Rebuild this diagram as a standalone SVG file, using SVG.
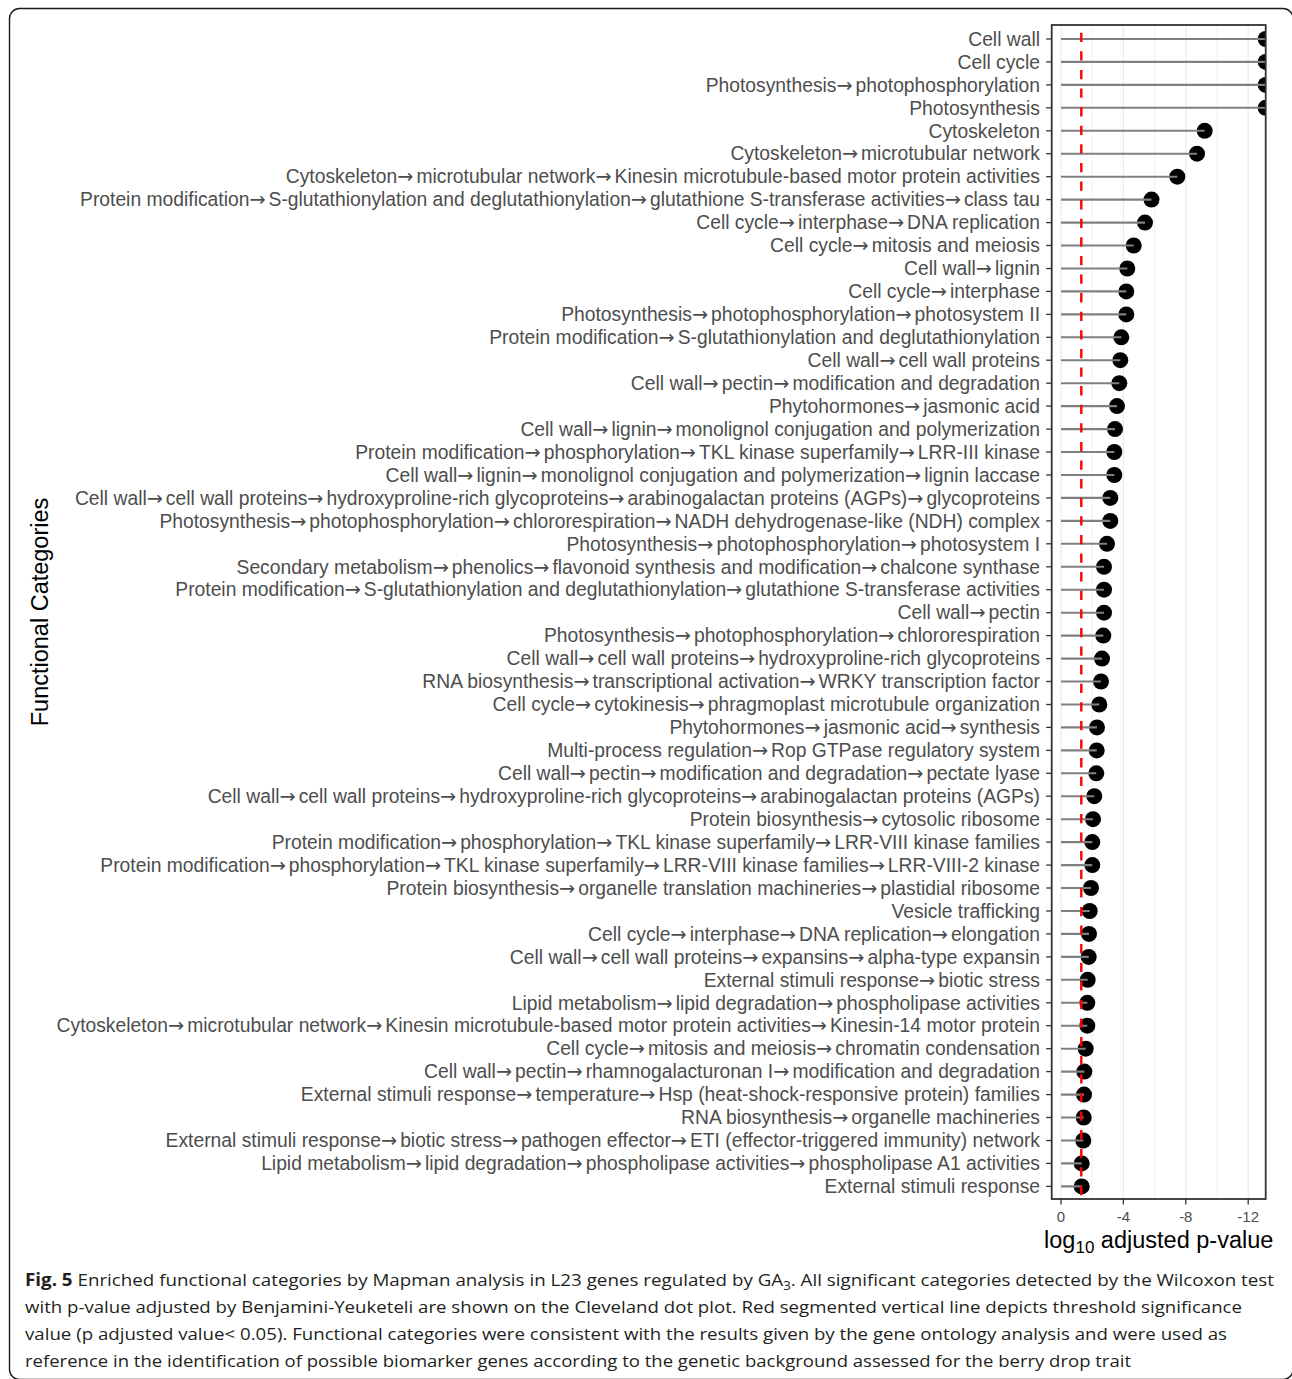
<svg xmlns="http://www.w3.org/2000/svg" width="1292" height="1379" viewBox="0 0 1292 1379">
<style>
.lbl{font-family:"Liberation Sans",Arial,Helvetica,sans-serif;font-size:19.3px;fill:#4d4d4d;text-anchor:end}
.a{font-family:"DejaVu Sans",sans-serif;letter-spacing:3px}
.tick{stroke:#333333;stroke-width:1.3}
.dot{fill:#000000}
.seg line{stroke:#808080;stroke-width:2.1}
.gmaj{stroke:#ebebeb;stroke-width:1.2}
.gmin{stroke:#ebebeb;stroke-width:0.8}
.xlab{font-family:"Liberation Sans",Arial,Helvetica,sans-serif;font-size:15px;fill:#4d4d4d;text-anchor:middle}
.title{font-family:"Liberation Sans",Arial,Helvetica,sans-serif;font-size:23.5px;fill:#000000;text-anchor:middle}
.cap{font-family:"Open Sans","Noto Sans",sans-serif;font-size:17px;fill:#231f20}
</style>
<defs>
<clipPath id="panelClip"><rect x="1051.7" y="25" width="214" height="1174"/></clipPath>
</defs>
<rect x="0" y="0" width="1292" height="1379" fill="#ffffff"/>
<rect id="frame" x="9.5" y="8.5" width="1283.5" height="1371" rx="10" ry="10" fill="none" stroke="#1a1a1a" stroke-width="1.4"/>

<g id="grid">
<line class="gmin" x1="1092.2" y1="25" x2="1092.2" y2="1199"/>
<line class="gmin" x1="1154.6" y1="25" x2="1154.6" y2="1199"/>
<line class="gmin" x1="1217" y1="25" x2="1217" y2="1199"/>
<line class="gmaj" x1="1061" y1="25" x2="1061" y2="1199"/>
<line class="gmaj" x1="1123.4" y1="25" x2="1123.4" y2="1199"/>
<line class="gmaj" x1="1185.8" y1="25" x2="1185.8" y2="1199"/>
<line class="gmaj" x1="1248.2" y1="25" x2="1248.2" y2="1199"/>
</g>

<g id="row01"><text class="lbl" x="1040" y="45.7">Cell wall</text><line class="tick" x1="1046.2" y1="39" x2="1051.7" y2="39"/><circle class="dot" cx="1265.7" cy="39" r="8" clip-path="url(#panelClip)"/></g>
<g id="row02"><text class="lbl" x="1040" y="68.6">Cell cycle</text><line class="tick" x1="1046.2" y1="61.9" x2="1051.7" y2="61.9"/><circle class="dot" cx="1265.7" cy="61.9" r="8" clip-path="url(#panelClip)"/></g>
<g id="row03"><text class="lbl" x="1040" y="91.6">Photosynthesis<tspan class="a">→</tspan>photophosphorylation</text><line class="tick" x1="1046.2" y1="84.9" x2="1051.7" y2="84.9"/><circle class="dot" cx="1265.7" cy="84.9" r="8" clip-path="url(#panelClip)"/></g>
<g id="row04"><text class="lbl" x="1040" y="114.5">Photosynthesis</text><line class="tick" x1="1046.2" y1="107.8" x2="1051.7" y2="107.8"/><circle class="dot" cx="1265.7" cy="107.8" r="8" clip-path="url(#panelClip)"/></g>
<g id="row05"><text class="lbl" x="1040" y="137.5">Cytoskeleton</text><line class="tick" x1="1046.2" y1="130.8" x2="1051.7" y2="130.8"/><circle class="dot" cx="1204.7" cy="130.8" r="8"/></g>
<g id="row06"><text class="lbl" x="1040" y="160.4">Cytoskeleton<tspan class="a">→</tspan>microtubular network</text><line class="tick" x1="1046.2" y1="153.7" x2="1051.7" y2="153.7"/><circle class="dot" cx="1197" cy="153.7" r="8"/></g>
<g id="row07"><text class="lbl" x="1040" y="183.4">Cytoskeleton<tspan class="a">→</tspan>microtubular network<tspan class="a">→</tspan>Kinesin microtubule-based motor protein activities</text><line class="tick" x1="1046.2" y1="176.7" x2="1051.7" y2="176.7"/><circle class="dot" cx="1177.3" cy="176.7" r="8"/></g>
<g id="row08"><text class="lbl" x="1040" y="206.3">Protein modification<tspan class="a">→</tspan>S-glutathionylation and deglutathionylation<tspan class="a">→</tspan>glutathione S-transferase activities<tspan class="a">→</tspan>class tau</text><line class="tick" x1="1046.2" y1="199.6" x2="1051.7" y2="199.6"/><circle class="dot" cx="1151.5" cy="199.6" r="8"/></g>
<g id="row09"><text class="lbl" x="1040" y="229.3">Cell cycle<tspan class="a">→</tspan>interphase<tspan class="a">→</tspan>DNA replication</text><line class="tick" x1="1046.2" y1="222.6" x2="1051.7" y2="222.6"/><circle class="dot" cx="1145" cy="222.6" r="8"/></g>
<g id="row10"><text class="lbl" x="1040" y="252.2">Cell cycle<tspan class="a">→</tspan>mitosis and meiosis</text><line class="tick" x1="1046.2" y1="245.5" x2="1051.7" y2="245.5"/><circle class="dot" cx="1133.7" cy="245.5" r="8"/></g>
<g id="row11"><text class="lbl" x="1040" y="275.2">Cell wall<tspan class="a">→</tspan>lignin</text><line class="tick" x1="1046.2" y1="268.5" x2="1051.7" y2="268.5"/><circle class="dot" cx="1127.3" cy="268.5" r="8"/></g>
<g id="row12"><text class="lbl" x="1040" y="298.1">Cell cycle<tspan class="a">→</tspan>interphase</text><line class="tick" x1="1046.2" y1="291.4" x2="1051.7" y2="291.4"/><circle class="dot" cx="1126.3" cy="291.4" r="8"/></g>
<g id="row13"><text class="lbl" x="1040" y="321.1">Photosynthesis<tspan class="a">→</tspan>photophosphorylation<tspan class="a">→</tspan>photosystem II</text><line class="tick" x1="1046.2" y1="314.4" x2="1051.7" y2="314.4"/><circle class="dot" cx="1126.3" cy="314.4" r="8"/></g>
<g id="row14"><text class="lbl" x="1040" y="344">Protein modification<tspan class="a">→</tspan>S-glutathionylation and deglutathionylation</text><line class="tick" x1="1046.2" y1="337.3" x2="1051.7" y2="337.3"/><circle class="dot" cx="1121.3" cy="337.3" r="8"/></g>
<g id="row15"><text class="lbl" x="1040" y="366.9">Cell wall<tspan class="a">→</tspan>cell wall proteins</text><line class="tick" x1="1046.2" y1="360.2" x2="1051.7" y2="360.2"/><circle class="dot" cx="1120.3" cy="360.2" r="8"/></g>
<g id="row16"><text class="lbl" x="1040" y="389.9">Cell wall<tspan class="a">→</tspan>pectin<tspan class="a">→</tspan>modification and degradation</text><line class="tick" x1="1046.2" y1="383.2" x2="1051.7" y2="383.2"/><circle class="dot" cx="1119.3" cy="383.2" r="8"/></g>
<g id="row17"><text class="lbl" x="1040" y="412.8">Phytohormones<tspan class="a">→</tspan>jasmonic acid</text><line class="tick" x1="1046.2" y1="406.1" x2="1051.7" y2="406.1"/><circle class="dot" cx="1117" cy="406.1" r="8"/></g>
<g id="row18"><text class="lbl" x="1040" y="435.8">Cell wall<tspan class="a">→</tspan>lignin<tspan class="a">→</tspan>monolignol conjugation and polymerization</text><line class="tick" x1="1046.2" y1="429.1" x2="1051.7" y2="429.1"/><circle class="dot" cx="1115" cy="429.1" r="8"/></g>
<g id="row19"><text class="lbl" x="1040" y="458.7">Protein modification<tspan class="a">→</tspan>phosphorylation<tspan class="a">→</tspan>TKL kinase superfamily<tspan class="a">→</tspan>LRR-III kinase</text><line class="tick" x1="1046.2" y1="452" x2="1051.7" y2="452"/><circle class="dot" cx="1114.3" cy="452" r="8"/></g>
<g id="row20"><text class="lbl" x="1040" y="481.7">Cell wall<tspan class="a">→</tspan>lignin<tspan class="a">→</tspan>monolignol conjugation and polymerization<tspan class="a">→</tspan>lignin laccase</text><line class="tick" x1="1046.2" y1="475" x2="1051.7" y2="475"/><circle class="dot" cx="1114.3" cy="475" r="8"/></g>
<g id="row21"><text class="lbl" x="1040" y="504.6">Cell wall<tspan class="a">→</tspan>cell wall proteins<tspan class="a">→</tspan>hydroxyproline-rich glycoproteins<tspan class="a">→</tspan>arabinogalactan proteins (AGPs)<tspan class="a">→</tspan>glycoproteins</text><line class="tick" x1="1046.2" y1="497.9" x2="1051.7" y2="497.9"/><circle class="dot" cx="1110.3" cy="497.9" r="8"/></g>
<g id="row22"><text class="lbl" x="1040" y="527.6">Photosynthesis<tspan class="a">→</tspan>photophosphorylation<tspan class="a">→</tspan>chlororespiration<tspan class="a">→</tspan>NADH dehydrogenase-like (NDH) complex</text><line class="tick" x1="1046.2" y1="520.9" x2="1051.7" y2="520.9"/><circle class="dot" cx="1110.3" cy="520.9" r="8"/></g>
<g id="row23"><text class="lbl" x="1040" y="550.5">Photosynthesis<tspan class="a">→</tspan>photophosphorylation<tspan class="a">→</tspan>photosystem I</text><line class="tick" x1="1046.2" y1="543.8" x2="1051.7" y2="543.8"/><circle class="dot" cx="1107" cy="543.8" r="8"/></g>
<g id="row24"><text class="lbl" x="1040" y="573.5">Secondary metabolism<tspan class="a">→</tspan>phenolics<tspan class="a">→</tspan>flavonoid synthesis and modification<tspan class="a">→</tspan>chalcone synthase</text><line class="tick" x1="1046.2" y1="566.8" x2="1051.7" y2="566.8"/><circle class="dot" cx="1104" cy="566.8" r="8"/></g>
<g id="row25"><text class="lbl" x="1040" y="596.4">Protein modification<tspan class="a">→</tspan>S-glutathionylation and deglutathionylation<tspan class="a">→</tspan>glutathione S-transferase activities</text><line class="tick" x1="1046.2" y1="589.7" x2="1051.7" y2="589.7"/><circle class="dot" cx="1104" cy="589.7" r="8"/></g>
<g id="row26"><text class="lbl" x="1040" y="619.4">Cell wall<tspan class="a">→</tspan>pectin</text><line class="tick" x1="1046.2" y1="612.7" x2="1051.7" y2="612.7"/><circle class="dot" cx="1104" cy="612.7" r="8"/></g>
<g id="row27"><text class="lbl" x="1040" y="642.3">Photosynthesis<tspan class="a">→</tspan>photophosphorylation<tspan class="a">→</tspan>chlororespiration</text><line class="tick" x1="1046.2" y1="635.6" x2="1051.7" y2="635.6"/><circle class="dot" cx="1103.3" cy="635.6" r="8"/></g>
<g id="row28"><text class="lbl" x="1040" y="665.3">Cell wall<tspan class="a">→</tspan>cell wall proteins<tspan class="a">→</tspan>hydroxyproline-rich glycoproteins</text><line class="tick" x1="1046.2" y1="658.6" x2="1051.7" y2="658.6"/><circle class="dot" cx="1102" cy="658.6" r="8"/></g>
<g id="row29"><text class="lbl" x="1040" y="688.2">RNA biosynthesis<tspan class="a">→</tspan>transcriptional activation<tspan class="a">→</tspan>WRKY transcription factor</text><line class="tick" x1="1046.2" y1="681.5" x2="1051.7" y2="681.5"/><circle class="dot" cx="1101" cy="681.5" r="8"/></g>
<g id="row30"><text class="lbl" x="1040" y="711.2">Cell cycle<tspan class="a">→</tspan>cytokinesis<tspan class="a">→</tspan>phragmoplast microtubule organization</text><line class="tick" x1="1046.2" y1="704.5" x2="1051.7" y2="704.5"/><circle class="dot" cx="1099.3" cy="704.5" r="8"/></g>
<g id="row31"><text class="lbl" x="1040" y="734.1">Phytohormones<tspan class="a">→</tspan>jasmonic acid<tspan class="a">→</tspan>synthesis</text><line class="tick" x1="1046.2" y1="727.4" x2="1051.7" y2="727.4"/><circle class="dot" cx="1097" cy="727.4" r="8"/></g>
<g id="row32"><text class="lbl" x="1040" y="757.1">Multi-process regulation<tspan class="a">→</tspan>Rop GTPase regulatory system</text><line class="tick" x1="1046.2" y1="750.4" x2="1051.7" y2="750.4"/><circle class="dot" cx="1096.7" cy="750.4" r="8"/></g>
<g id="row33"><text class="lbl" x="1040" y="780">Cell wall<tspan class="a">→</tspan>pectin<tspan class="a">→</tspan>modification and degradation<tspan class="a">→</tspan>pectate lyase</text><line class="tick" x1="1046.2" y1="773.3" x2="1051.7" y2="773.3"/><circle class="dot" cx="1096.3" cy="773.3" r="8"/></g>
<g id="row34"><text class="lbl" x="1040" y="802.9">Cell wall<tspan class="a">→</tspan>cell wall proteins<tspan class="a">→</tspan>hydroxyproline-rich glycoproteins<tspan class="a">→</tspan>arabinogalactan proteins (AGPs)</text><line class="tick" x1="1046.2" y1="796.2" x2="1051.7" y2="796.2"/><circle class="dot" cx="1094.3" cy="796.2" r="8"/></g>
<g id="row35"><text class="lbl" x="1040" y="825.9">Protein biosynthesis<tspan class="a">→</tspan>cytosolic ribosome</text><line class="tick" x1="1046.2" y1="819.2" x2="1051.7" y2="819.2"/><circle class="dot" cx="1093" cy="819.2" r="8"/></g>
<g id="row36"><text class="lbl" x="1040" y="848.8">Protein modification<tspan class="a">→</tspan>phosphorylation<tspan class="a">→</tspan>TKL kinase superfamily<tspan class="a">→</tspan>LRR-VIII kinase families</text><line class="tick" x1="1046.2" y1="842.1" x2="1051.7" y2="842.1"/><circle class="dot" cx="1092.3" cy="842.1" r="8"/></g>
<g id="row37"><text class="lbl" x="1040" y="871.8">Protein modification<tspan class="a">→</tspan>phosphorylation<tspan class="a">→</tspan>TKL kinase superfamily<tspan class="a">→</tspan>LRR-VIII kinase families<tspan class="a">→</tspan>LRR-VIII-2 kinase</text><line class="tick" x1="1046.2" y1="865.1" x2="1051.7" y2="865.1"/><circle class="dot" cx="1092.3" cy="865.1" r="8"/></g>
<g id="row38"><text class="lbl" x="1040" y="894.7">Protein biosynthesis<tspan class="a">→</tspan>organelle translation machineries<tspan class="a">→</tspan>plastidial ribosome</text><line class="tick" x1="1046.2" y1="888" x2="1051.7" y2="888"/><circle class="dot" cx="1091" cy="888" r="8"/></g>
<g id="row39"><text class="lbl" x="1040" y="917.7">Vesicle trafficking</text><line class="tick" x1="1046.2" y1="911" x2="1051.7" y2="911"/><circle class="dot" cx="1089.7" cy="911" r="8"/></g>
<g id="row40"><text class="lbl" x="1040" y="940.6">Cell cycle<tspan class="a">→</tspan>interphase<tspan class="a">→</tspan>DNA replication<tspan class="a">→</tspan>elongation</text><line class="tick" x1="1046.2" y1="933.9" x2="1051.7" y2="933.9"/><circle class="dot" cx="1089" cy="933.9" r="8"/></g>
<g id="row41"><text class="lbl" x="1040" y="963.6">Cell wall<tspan class="a">→</tspan>cell wall proteins<tspan class="a">→</tspan>expansins<tspan class="a">→</tspan>alpha-type expansin</text><line class="tick" x1="1046.2" y1="956.9" x2="1051.7" y2="956.9"/><circle class="dot" cx="1088.7" cy="956.9" r="8"/></g>
<g id="row42"><text class="lbl" x="1040" y="986.5">External stimuli response<tspan class="a">→</tspan>biotic stress</text><line class="tick" x1="1046.2" y1="979.8" x2="1051.7" y2="979.8"/><circle class="dot" cx="1087.7" cy="979.8" r="8"/></g>
<g id="row43"><text class="lbl" x="1040" y="1009.5">Lipid metabolism<tspan class="a">→</tspan>lipid degradation<tspan class="a">→</tspan>phospholipase activities</text><line class="tick" x1="1046.2" y1="1002.8" x2="1051.7" y2="1002.8"/><circle class="dot" cx="1087.3" cy="1002.8" r="8"/></g>
<g id="row44"><text class="lbl" x="1040" y="1032.4">Cytoskeleton<tspan class="a">→</tspan>microtubular network<tspan class="a">→</tspan>Kinesin microtubule-based motor protein activities<tspan class="a">→</tspan>Kinesin-14 motor protein</text><line class="tick" x1="1046.2" y1="1025.7" x2="1051.7" y2="1025.7"/><circle class="dot" cx="1087.3" cy="1025.7" r="8"/></g>
<g id="row45"><text class="lbl" x="1040" y="1055.4">Cell cycle<tspan class="a">→</tspan>mitosis and meiosis<tspan class="a">→</tspan>chromatin condensation</text><line class="tick" x1="1046.2" y1="1048.7" x2="1051.7" y2="1048.7"/><circle class="dot" cx="1085.7" cy="1048.7" r="8"/></g>
<g id="row46"><text class="lbl" x="1040" y="1078.3">Cell wall<tspan class="a">→</tspan>pectin<tspan class="a">→</tspan>rhamnogalacturonan I<tspan class="a">→</tspan>modification and degradation</text><line class="tick" x1="1046.2" y1="1071.6" x2="1051.7" y2="1071.6"/><circle class="dot" cx="1084.3" cy="1071.6" r="8"/></g>
<g id="row47"><text class="lbl" x="1040" y="1101.3">External stimuli response<tspan class="a">→</tspan>temperature<tspan class="a">→</tspan>Hsp (heat-shock-responsive protein) families</text><line class="tick" x1="1046.2" y1="1094.6" x2="1051.7" y2="1094.6"/><circle class="dot" cx="1084" cy="1094.6" r="8"/></g>
<g id="row48"><text class="lbl" x="1040" y="1124.2">RNA biosynthesis<tspan class="a">→</tspan>organelle machineries</text><line class="tick" x1="1046.2" y1="1117.5" x2="1051.7" y2="1117.5"/><circle class="dot" cx="1083.7" cy="1117.5" r="8"/></g>
<g id="row49"><text class="lbl" x="1040" y="1147.2">External stimuli response<tspan class="a">→</tspan>biotic stress<tspan class="a">→</tspan>pathogen effector<tspan class="a">→</tspan>ETI (effector-triggered immunity) network</text><line class="tick" x1="1046.2" y1="1140.5" x2="1051.7" y2="1140.5"/><circle class="dot" cx="1083.3" cy="1140.5" r="8"/></g>
<g id="row50"><text class="lbl" x="1040" y="1170.1">Lipid metabolism<tspan class="a">→</tspan>lipid degradation<tspan class="a">→</tspan>phospholipase activities<tspan class="a">→</tspan>phospholipase A1 activities</text><line class="tick" x1="1046.2" y1="1163.4" x2="1051.7" y2="1163.4"/><circle class="dot" cx="1081.7" cy="1163.4" r="8"/></g>
<g id="row51"><text class="lbl" x="1040" y="1193.1">External stimuli response</text><line class="tick" x1="1046.2" y1="1186.4" x2="1051.7" y2="1186.4"/><circle class="dot" cx="1081.7" cy="1186.4" r="8"/></g>

<g id="connectors" class="seg" clip-path="url(#panelClip)">
<line x1="1061" y1="39" x2="1265.7" y2="39"/>
<line x1="1061" y1="61.9" x2="1265.7" y2="61.9"/>
<line x1="1061" y1="84.9" x2="1265.7" y2="84.9"/>
<line x1="1061" y1="107.8" x2="1265.7" y2="107.8"/>
<line x1="1061" y1="130.8" x2="1204.7" y2="130.8"/>
<line x1="1061" y1="153.7" x2="1197" y2="153.7"/>
<line x1="1061" y1="176.7" x2="1177.3" y2="176.7"/>
<line x1="1061" y1="199.6" x2="1151.5" y2="199.6"/>
<line x1="1061" y1="222.6" x2="1145" y2="222.6"/>
<line x1="1061" y1="245.5" x2="1133.7" y2="245.5"/>
<line x1="1061" y1="268.5" x2="1127.3" y2="268.5"/>
<line x1="1061" y1="291.4" x2="1126.3" y2="291.4"/>
<line x1="1061" y1="314.4" x2="1126.3" y2="314.4"/>
<line x1="1061" y1="337.3" x2="1121.3" y2="337.3"/>
<line x1="1061" y1="360.2" x2="1120.3" y2="360.2"/>
<line x1="1061" y1="383.2" x2="1119.3" y2="383.2"/>
<line x1="1061" y1="406.1" x2="1117" y2="406.1"/>
<line x1="1061" y1="429.1" x2="1115" y2="429.1"/>
<line x1="1061" y1="452" x2="1114.3" y2="452"/>
<line x1="1061" y1="475" x2="1114.3" y2="475"/>
<line x1="1061" y1="497.9" x2="1110.3" y2="497.9"/>
<line x1="1061" y1="520.9" x2="1110.3" y2="520.9"/>
<line x1="1061" y1="543.8" x2="1107" y2="543.8"/>
<line x1="1061" y1="566.8" x2="1104" y2="566.8"/>
<line x1="1061" y1="589.7" x2="1104" y2="589.7"/>
<line x1="1061" y1="612.7" x2="1104" y2="612.7"/>
<line x1="1061" y1="635.6" x2="1103.3" y2="635.6"/>
<line x1="1061" y1="658.6" x2="1102" y2="658.6"/>
<line x1="1061" y1="681.5" x2="1101" y2="681.5"/>
<line x1="1061" y1="704.5" x2="1099.3" y2="704.5"/>
<line x1="1061" y1="727.4" x2="1097" y2="727.4"/>
<line x1="1061" y1="750.4" x2="1096.7" y2="750.4"/>
<line x1="1061" y1="773.3" x2="1096.3" y2="773.3"/>
<line x1="1061" y1="796.2" x2="1094.3" y2="796.2"/>
<line x1="1061" y1="819.2" x2="1093" y2="819.2"/>
<line x1="1061" y1="842.1" x2="1092.3" y2="842.1"/>
<line x1="1061" y1="865.1" x2="1092.3" y2="865.1"/>
<line x1="1061" y1="888" x2="1091" y2="888"/>
<line x1="1061" y1="911" x2="1089.7" y2="911"/>
<line x1="1061" y1="933.9" x2="1089" y2="933.9"/>
<line x1="1061" y1="956.9" x2="1088.7" y2="956.9"/>
<line x1="1061" y1="979.8" x2="1087.7" y2="979.8"/>
<line x1="1061" y1="1002.8" x2="1087.3" y2="1002.8"/>
<line x1="1061" y1="1025.7" x2="1087.3" y2="1025.7"/>
<line x1="1061" y1="1048.7" x2="1085.7" y2="1048.7"/>
<line x1="1061" y1="1071.6" x2="1084.3" y2="1071.6"/>
<line x1="1061" y1="1094.6" x2="1084" y2="1094.6"/>
<line x1="1061" y1="1117.5" x2="1083.7" y2="1117.5"/>
<line x1="1061" y1="1140.5" x2="1083.3" y2="1140.5"/>
<line x1="1061" y1="1163.4" x2="1081.7" y2="1163.4"/>
<line x1="1061" y1="1186.4" x2="1081.7" y2="1186.4"/>
</g>

<line id="threshold" x1="1081.3" y1="25" x2="1081.3" y2="1199" stroke="#ff0000" stroke-width="2.4" stroke-dasharray="9.3 9.3" stroke-dashoffset="10.9"/>

<rect id="panel" x="1051.7" y="25" width="214" height="1174" fill="none" stroke="#333333" stroke-width="1.8"/>

<g id="xaxis">
<line class="tick" x1="1061" y1="1199" x2="1061" y2="1204.5"/>
<line class="tick" x1="1123.4" y1="1199" x2="1123.4" y2="1204.5"/>
<line class="tick" x1="1185.8" y1="1199" x2="1185.8" y2="1204.5"/>
<line class="tick" x1="1248.2" y1="1199" x2="1248.2" y2="1204.5"/>
<text class="xlab" x="1061" y="1221.5">0</text>
<text class="xlab" x="1123.4" y="1221.5">-4</text>
<text class="xlab" x="1185.8" y="1221.5">-8</text>
<text class="xlab" x="1248.2" y="1221.5">-12</text>
<text class="title" x="1158.7" y="1248">log<tspan font-size="17px" dy="5">10</tspan><tspan dy="-5"> adjusted p-value</tspan></text>
</g>

<text id="ytitle" class="title" transform="translate(47.5,612) rotate(-90)" x="0" y="0">Functional Categories</text>

<g id="caption">
<text class="cap" x="25" y="1286" textLength="1249" lengthAdjust="spacingAndGlyphs"><tspan font-weight="bold">Fig. 5</tspan> Enriched functional categories by Mapman analysis in L23 genes regulated by GA<tspan font-size="12px" dy="4">3</tspan><tspan dy="-4">. All significant categories detected by the Wilcoxon test</tspan></text>
<text class="cap" x="25" y="1313" textLength="1217" lengthAdjust="spacingAndGlyphs">with p-value adjusted by Benjamini-Yeuketeli are shown on the Cleveland dot plot. Red segmented vertical line depicts threshold significance</text>
<text class="cap" x="25" y="1340" textLength="1202" lengthAdjust="spacingAndGlyphs">value (p adjusted value&lt; 0.05). Functional categories were consistent with the results given by the gene ontology analysis and were used as</text>
<text class="cap" x="25" y="1366.5" textLength="1106" lengthAdjust="spacingAndGlyphs">reference in the identification of possible biomarker genes according to the genetic background assessed for the berry drop trait</text>
</g>
</svg>
